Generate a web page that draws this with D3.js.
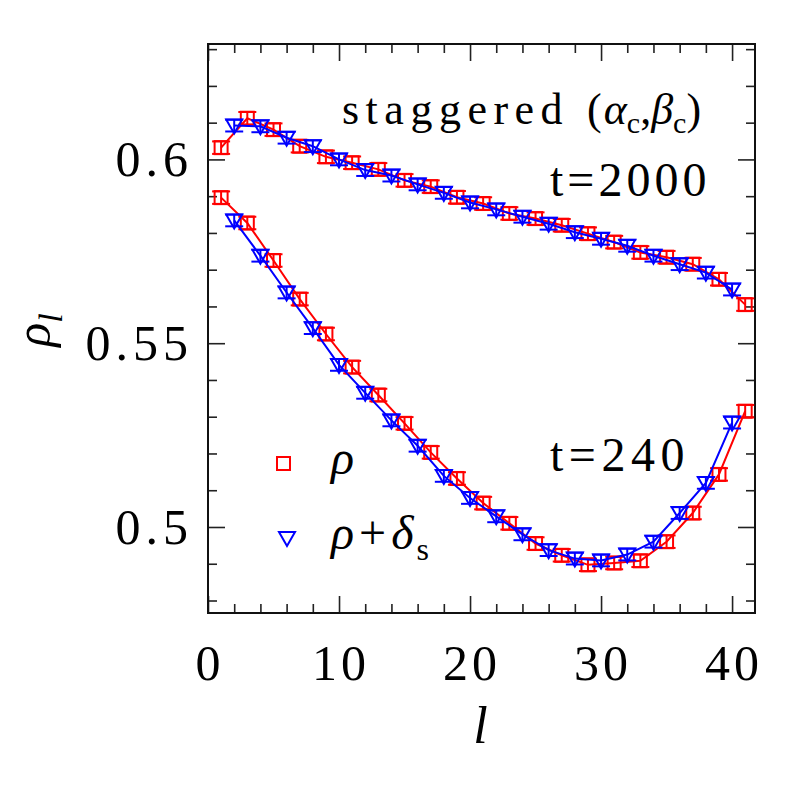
<!DOCTYPE html>
<html>
<head>
<meta charset="utf-8">
<script src="https://cdn.jsdelivr.net/npm/d3@7"></script>
<style>
  body { margin: 0; background: #fff; }
  text { font-family: "Liberation Serif", "DejaVu Serif", serif; fill: #000; }
</style>
</head>
<body>
<div id="chart"></div>
<script>

// red squares (rho) sit on odd l, blue triangles (rho + delta_s) on even l
var lOdd = [1, 3, 5, 7, 9, 11, 13, 15, 17, 19, 21, 23, 25, 27, 29, 31, 33, 35, 37, 39, 41];
var lEven = [2, 4, 6, 8, 10, 12, 14, 16, 18, 20, 22, 24, 26, 28, 30, 32, 34, 36, 38, 40];

// t = 2000
var rhoLate = [0.6032, 0.6112, 0.6081, 0.6036, 0.6007, 0.5991, 0.5973, 0.5943, 0.5926, 0.5897, 0.5880,
    0.5853, 0.5839, 0.5821, 0.5798, 0.5775, 0.5747, 0.5734, 0.5715, 0.5674, 0.5605];
var rhoDeltaLate = [0.6092, 0.6090, 0.6059, 0.6036, 0.6000, 0.5971, 0.5956, 0.5932, 0.5909, 0.5883,
    0.5864, 0.5844, 0.5825, 0.5802, 0.5784, 0.5765, 0.5738, 0.5715, 0.5692, 0.5646];

// t = 240
var rhoEarly = [0.5896, 0.5827, 0.5725, 0.5620, 0.5525, 0.5435, 0.5359, 0.5282, 0.5203, 0.5132, 0.5065,
    0.5010, 0.4955, 0.4923, 0.4897, 0.4902, 0.4908, 0.4960, 0.5038, 0.5143, 0.5315];
var rhoDeltaEarly = [0.5834, 0.5738, 0.5638, 0.5541, 0.5441, 0.5365, 0.5290, 0.5221, 0.5139, 0.5079,
    0.5029, 0.4980, 0.4937, 0.4914, 0.4909, 0.4925, 0.4960, 0.5038, 0.5120, 0.5284];

var errRho = 0.0017;
var errDelta = 0.0016;

var xMajor = [0, 10, 20, 30, 40];
var yMajor = [0.5, 0.55, 0.6];
var yMajorLabels = ["0.5", "0.55", "0.6"];

var W = 797, H = 797;
var margin = { top: 44, right: 42, bottom: 184, left: 208 },
    width = W - margin.left - margin.right,
    height = H - margin.top - margin.bottom;

var svg = d3.select("#chart").append("svg")
    .attr("width", W)
    .attr("height", H);
var g = svg.append("g")
    .attr("transform", "translate(" + margin.left + "," + margin.top + ")");

var x = d3.scaleLinear().domain([0, 41.75]).range([0, width]);
var y = d3.scaleLinear().domain([0.4766, 0.6314]).range([height, 0]);

var xMinor = d3.range(0, 42, 2).filter(d => xMajor.indexOf(d) < 0);
var yMinor = d3.range(48, 64).map(d => d / 100).filter(d => yMajor.every(m => Math.abs(m - d) > 1e-6));

var majorLen = 17, minorLen = 9;

// ticks inward on all four sides
function tickSet(axis, vals, len) {
    return d3[axis](axis === "axisBottom" || axis === "axisTop" ? x : y)
        .tickValues(vals).tickSize(-len).tickFormat("");
}
[[xMajor, majorLen], [xMinor, minorLen]].forEach(function (p) {
    g.append("g").attr("transform", "translate(0," + height + ")").call(tickSet("axisBottom", p[0], p[1]));
    g.append("g").call(tickSet("axisTop", p[0], p[1]));
});
[[yMajor, majorLen], [yMinor, minorLen]].forEach(function (p) {
    g.append("g").call(tickSet("axisLeft", p[0], p[1]));
    g.append("g").attr("transform", "translate(" + width + ",0)").call(tickSet("axisRight", p[0], p[1]));
});
g.selectAll(".domain").remove();
g.selectAll(".tick line").attr("stroke", "#222").attr("stroke-width", 1.6);

g.append("rect")
    .attr("width", width).attr("height", height)
    .attr("fill", "none").attr("stroke", "#111").attr("stroke-width", 2);

// tick labels (wide, light serif look of the original)
g.selectAll(".xlab").data(xMajor).enter().append("text")
    .attr("x", d => x(d) + 2).attr("y", height + 67)
    .attr("text-anchor", "middle").attr("font-size", 50).attr("letter-spacing", 4)
    .text(d => d);
g.selectAll(".ylab").data(yMajor).enter().append("text")
    .attr("x", -15).attr("y", d => y(d) + 17)
    .attr("text-anchor", "end").attr("font-size", 50).attr("letter-spacing", 5)
    .text((d, i) => yMajorLabels[i]);

// axis titles
g.append("text")
    .attr("x", x(20.8)).attr("y", height + 130)
    .attr("text-anchor", "middle").attr("font-size", 52).attr("font-style", "italic")
    .text("l");
var yt = svg.append("text")
    .attr("transform", "translate(50,330) rotate(-90)")
    .attr("text-anchor", "middle").attr("font-size", 50).attr("font-style", "italic");
yt.append("tspan").text("ρ");
yt.append("tspan").attr("dy", 12).attr("font-size", 34).text("l");

var red = "#ff0000", blue = "#0000ff";

function drawSeries(ls, vals, color, kind, err) {
    var pts = ls.map((l, i) => ({ l: l, v: vals[i] }));
    g.append("path").datum(pts)
        .attr("fill", "none").attr("stroke", color).attr("stroke-width", 2)
        .attr("d", d3.line().x(d => x(d.l)).y(d => y(d.v)));
    var m = g.append("g").selectAll("g").data(pts).enter().append("g")
        .attr("transform", d => "translate(" + x(d.l) + "," + y(d.v) + ")")
        .attr("stroke", color).attr("stroke-width", 2).attr("fill", "none");
    var e = y(0.5) - y(0.5 + err);
    m.append("line").attr("x1", 0).attr("x2", 0).attr("y1", -e).attr("y2", e);
    m.append("line").attr("x1", -9).attr("x2", 9).attr("y1", -e).attr("y2", -e);
    m.append("line").attr("x1", -9).attr("x2", 9).attr("y1", e).attr("y2", e);
    if (kind === "square") {
        m.append("rect").attr("x", -6.5).attr("y", -6.5).attr("width", 13).attr("height", 13);
    } else {
        m.append("path").attr("d", "M-8,-6 L8,-6 L0,8 Z");
    }
}

drawSeries(lOdd, rhoLate, red, "square", errRho);
drawSeries(lEven, rhoDeltaLate, blue, "tri", errDelta);
drawSeries(lOdd, rhoEarly, red, "square", errRho);
drawSeries(lEven, rhoDeltaEarly, blue, "tri", errDelta);

// annotations
var t1 = svg.append("text").attr("x", 342).attr("y", 124)
    .attr("font-size", 44);
t1.append("tspan").attr("letter-spacing", 6.5).text("staggered");
t1.append("tspan").attr("dx", 18).attr("letter-spacing", 2).text("(");
t1.append("tspan").attr("font-style", "italic").text("α");
t1.append("tspan").attr("dy", 9).attr("font-size", 30).text("c");
t1.append("tspan").attr("dy", -9).text(",");
t1.append("tspan").attr("font-style", "italic").text("β");
t1.append("tspan").attr("dy", 9).attr("font-size", 30).text("c");
t1.append("tspan").attr("dy", -9).text(")");

svg.append("text").attr("x", 550).attr("y", 196)
    .attr("font-size", 48).attr("letter-spacing", 4)
    .text("t=2000");
svg.append("text").attr("x", 550).attr("y", 471)
    .attr("font-size", 48).attr("letter-spacing", 5.5)
    .text("t=240");

// legend
var leg = svg.append("g");
leg.append("rect").attr("x", 277).attr("y", 457).attr("width", 13).attr("height", 13)
    .attr("fill", "none").attr("stroke", red).attr("stroke-width", 2);
leg.append("path").attr("d", "M279,532 L295,532 L287,546 Z")
    .attr("fill", "none").attr("stroke", blue).attr("stroke-width", 2);
leg.append("text").attr("x", 331).attr("y", 474).attr("font-size", 48)
    .attr("font-style", "italic").text("ρ");
var l2 = leg.append("text").attr("x", 331).attr("y", 549).attr("font-size", 48).attr("letter-spacing", 3);
l2.append("tspan").attr("font-style", "italic").text("ρ");
l2.append("tspan").attr("dx", 2).text("+");
l2.append("tspan").attr("dx", 2).attr("font-style", "italic").text("δ");
l2.append("tspan").attr("dy", 11).attr("font-size", 32).text("s");

</script>
</body>
</html>
